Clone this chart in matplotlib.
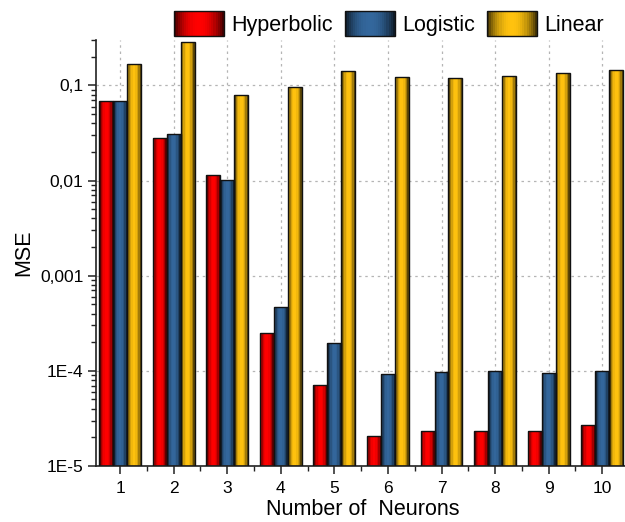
import numpy as np
import matplotlib
matplotlib.use('Agg')
import matplotlib.pyplot as plt
from matplotlib.patches import Patch, Rectangle
from matplotlib.legend_handler import HandlerBase
from matplotlib.colors import to_rgb
from matplotlib.ticker import FixedLocator, FixedFormatter, LogLocator, NullFormatter

plt.rcParams['font.family'] = ['Liberation Sans', 'DejaVu Sans']

# 数据 (MSE, 对数坐标)
neurons = [1, 2, 3, 4, 5, 6, 7, 8, 9, 10]
hyperbolic = [0.069, 0.0282, 0.0114, 2.5e-4, 7.1e-5, 2.06e-5, 2.34e-5, 2.34e-5, 2.34e-5, 2.68e-5]
logistic = [0.069, 0.031, 0.0101, 4.64e-4, 1.97e-4, 9.3e-5, 9.7e-5, 1.0e-4, 9.4e-5, 1.0e-4]
linear = [0.166, 0.288, 0.079, 0.097, 0.142, 0.124, 0.121, 0.126, 0.136, 0.144]

series_names = ['Hyperbolic', 'Logistic', 'Linear']
series_colors = ['#ff0000', '#33679c', '#ffc20e']
ytick_vals = [1e-5, 1e-4, 1e-3, 1e-2, 1e-1]
ytick_labels = ['1E-5', '1E-4', '0,001', '0,01', '0,1']


def shade(color, t):
    # 左右两边暗, 中间亮 (类似Origin的渐变柱)
    c = np.array(to_rgb(color))
    f = 1 - 0.8 * abs(2 * t - 1) ** 2.2
    return tuple(c * f)


class GradHandler(HandlerBase):
    def create_artists(self, legend, orig_handle, xdescent, ydescent,
                       width, height, fontsize, trans):
        col = orig_handle.get_facecolor()
        arts = []
        n = 24
        for i in range(n):
            t = (i + 0.5) / n
            arts.append(Rectangle((-xdescent + width * i / n, -ydescent), width / n + 0.3,
                                  height, facecolor=shade(col, t), edgecolor='none',
                                  transform=trans))
        arts.append(Rectangle((-xdescent, -ydescent), width, height, facecolor='none',
                              edgecolor='#111111', lw=1.0, transform=trans))
        return arts


fig = plt.figure(figsize=(6.25, 5.22), dpi=100)
ax = fig.add_axes([96 / 625, 56 / 522, 533 / 625, 426 / 522])
ax.set_yscale('log')

y_floor = 1e-5
bar_w = 0.26
n_strip = 10
x = np.array(neurons, dtype=float)
for k, (vals, col) in enumerate(zip([hyperbolic, logistic, linear], series_colors)):
    xc = x + (k - 1) * bar_w
    heights = np.array(vals) - y_floor
    for i in range(n_strip):
        t = (i + 0.5) / n_strip
        ax.bar(xc - bar_w / 2 + bar_w * i / n_strip, heights, width=bar_w / n_strip * 1.05,
               bottom=y_floor, align='edge', color=shade(col, t), linewidth=0, zorder=2)
    ax.bar(xc, heights, width=bar_w, bottom=y_floor, facecolor='none',
           edgecolor='#111111', linewidth=1.0, zorder=3)

ax.set_xlim(0.55, 10.5)
ax.set_ylim(1e-5, 0.3)

ax.set_xticks(neurons)
ax.set_xticks(np.arange(1.5, 10.6, 1), minor=True)
ax.yaxis.set_major_locator(FixedLocator(ytick_vals))
ax.yaxis.set_major_formatter(FixedFormatter(ytick_labels))
ax.yaxis.set_minor_locator(LogLocator(base=10, subs=np.arange(2, 10)))
ax.yaxis.set_minor_formatter(NullFormatter())

ax.tick_params(axis='both', which='major', direction='out', length=6, width=1.1,
               labelsize=12.5, color='#222222')
ax.tick_params(axis='both', which='minor', direction='out', length=3.5, width=1.0,
               color='#222222')
ax.tick_params(axis='x', which='major', pad=5)
ax.tick_params(axis='y', which='major', pad=3)

for s in ['top', 'right']:
    ax.spines[s].set_visible(False)
for s in ['left', 'bottom']:
    ax.spines[s].set_linewidth(1.2)
    ax.spines[s].set_color('#222222')

ax.grid(True, which='major', color='#b5b5b5', linestyle=(0, (2, 3)), linewidth=0.9)
ax.set_axisbelow(True)

ax.set_xlabel('Number of  Neurons', fontsize=15.5, labelpad=2)
ax.set_ylabel('MSE', fontsize=15.5, labelpad=4)

handles = [Patch(facecolor=c, label=n) for n, c in zip(series_names, series_colors)]
fig.legend(handles=handles, loc='center', bbox_to_anchor=(0.622, 0.955), ncol=3,
           frameon=False, fontsize=15.5, handlelength=2.33, handleheight=1.45,
           handletextpad=0.33, columnspacing=0.56, borderpad=0,
           handler_map={h: GradHandler() for h in handles})

plt.savefig('out.png', dpi=100)
